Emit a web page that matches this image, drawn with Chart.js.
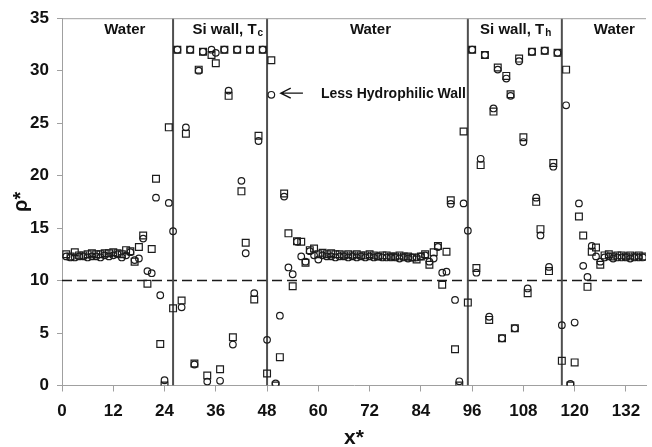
<!DOCTYPE html>
<html>
<head>
<meta charset="utf-8">
<script src="https://cdn.jsdelivr.net/npm/chart.js@4.4.1/dist/chart.umd.min.js"></script>
<style>
  html, body { margin: 0; padding: 0; background: #fff; }
  #wrap { width: 652px; height: 447px; position: relative; }
</style>
</head>
<body>
<div id="wrap"><canvas id="c" width="652" height="447"></canvas></div>
<script>
// x* positions (one sample per unit)
const xStar = [1,2,3,4,5,6,7,8,9,10,11,12,13,14,15,16,17,18,19,20,
  21,22,23,24,25,26,27,28,29,30,31,32,33,34,35,36,37,38,39,40,
  41,42,43,44,45,46,47,48,49,50,51,52,53,54,55,56,57,58,59,60,
  61,62,63,64,65,66,67,68,69,70,71,72,73,74,75,76,77,78,79,80,
  81,82,83,84,85,86,87,88,89,90,91,92,93,94,95,96,97,98,99,100,
  101,102,103,104,105,106,107,108,109,110,111,112,113,114,115,116,117,118,119,120,
  121,122,123,124,125,126,127,128,129,130,131,132,133,134,135,136];

// rho* — square markers
const rhoSquares = [12.5,12.3,12.7,12.4,12.4,12.5,12.6,12.5,12.5,12.6,
  12.6,12.7,12.6,12.5,12.9,12.8,11.8,13.2,14.3,9.7,
  13.0,19.7,3.95,0.0,24.6,7.35,32.0,8.1,24.0,32.0,
  2.1,30.1,31.8,0.95,31.5,30.7,1.55,32.0,27.6,4.6,
  32.0,18.5,13.6,32.0,8.2,23.8,32.0,1.15,31.0,0.0,
  2.7,18.3,14.5,9.45,13.75,13.7,11.7,12.9,13.05,12.5,
  12.65,12.5,12.6,12.5,12.5,12.4,12.5,12.4,12.5,12.4,
  12.4,12.5,12.4,12.3,12.4,12.4,12.3,12.3,12.4,12.3,
  12.3,12.2,12.0,12.3,12.5,11.5,12.7,13.3,9.6,12.75,
  17.65,3.45,0.0,24.2,7.9,32.0,11.2,21.0,31.5,6.25,
  26.1,30.3,4.5,29.5,27.75,5.45,31.15,23.65,8.8,31.8,
  17.5,14.9,31.9,10.9,21.2,31.7,2.35,30.1,0.0,2.2,
  16.1,14.3,9.4,12.75,13.15,11.5,12.4,12.5,12.3,12.4,
  12.4,12.3,12.4,12.3,12.4,12.3];

// rho* — circle markers
const rhoCircles = [12.3,12.2,12.2,12.3,12.3,12.2,12.3,12.3,12.2,12.4,
  12.3,12.4,12.5,12.2,12.4,12.7,11.95,12.1,14.0,10.9,
  10.7,17.9,8.6,0.5,17.4,14.7,32.0,7.45,24.6,32.0,
  2.0,30.0,31.8,0.37,32.0,31.7,0.45,32.0,28.1,3.9,
  32.0,19.5,12.6,32.0,8.8,23.3,32.0,4.35,27.7,0.2,
  6.65,18.0,11.25,10.6,13.7,12.3,11.8,12.8,12.4,12.0,
  12.4,12.3,12.3,12.2,12.3,12.3,12.2,12.3,12.2,12.3,
  12.2,12.3,12.2,12.3,12.2,12.2,12.2,12.2,12.1,12.2,
  12.1,12.2,12.2,12.3,12.4,11.8,12.1,13.2,10.75,10.85,
  17.3,8.15,0.4,17.35,14.75,32.0,10.75,21.6,31.5,6.55,
  26.4,30.1,4.5,29.25,27.6,5.45,30.9,23.2,9.25,31.8,
  17.9,14.3,31.9,11.3,20.85,31.7,5.75,26.7,0.15,6.0,
  17.35,11.4,10.35,13.3,12.3,11.8,12.2,12.3,12.1,12.2,
  12.2,12.2,12.1,12.2,12.2,12.2];

// x* positions of the material boundaries
const boundaries = [26, 48, 95, 117];
// reference level
const refLevel = [10];
// axis ticks
const xTicks = [0, 12, 24, 36, 48, 60, 72, 84, 96, 108, 120, 132];
const yTicks = [0, 5, 10, 15, 20, 25, 30, 35];

// region labels
const regionLabels = [
  { text: 'Water', sub: '', x: 14.7 },
  { text: 'Si wall, T', sub: 'c', x: 38.8 },
  { text: 'Water', sub: '', x: 72.2 },
  { text: 'Si wall, T', sub: 'h', x: 106.2 },
  { text: 'Water', sub: '', x: 129.3 }
];

const FONT = "'Liberation Sans', Arial, sans-serif";

const squarePts = xStar.map((x, i) => ({ x: x, y: rhoSquares[i] }));
const circlePts = xStar.map((x, i) => ({ x: x, y: rhoCircles[i] }));

const boundaryDatasets = boundaries.map(b => ({
  type: 'line',
  data: [{ x: b, y: 0 }, { x: b, y: 35 }],
  borderColor: 'rgba(70,70,70,0.95)',
  borderWidth: 2,
  pointRadius: 0,
  showLine: true,
  fill: false,
  order: 5
}));

const refDataset = {
  type: 'line',
  data: [{ x: 0, y: refLevel[0] }, { x: 136.7, y: refLevel[0] }],
  borderColor: '#1a1a1a',
  borderWidth: 1.4,
  borderDash: [10, 5],
  pointRadius: 0,
  showLine: true,
  fill: false,
  order: 6
};

const annotPlugin = {
  id: 'annot',
  afterDatasetsDraw(chart) {
    const { ctx, chartArea, scales } = chart;
    const xs = scales.x, ys = scales.y;
    ctx.save();
    // top frame line
    ctx.strokeStyle = '#a0a0a0';
    ctx.lineWidth = 1;
    ctx.beginPath();
    ctx.moveTo(chartArea.left, chartArea.top + 0.5);
    ctx.lineTo(chartArea.right, chartArea.top + 0.5);
    ctx.stroke();

    // region labels
    ctx.fillStyle = '#111';
    ctx.textBaseline = 'alphabetic';
    const baseY = ys.getPixelForValue(33.5);
    regionLabels.forEach(l => {
      ctx.font = 'bold 15px ' + FONT;
      const w1 = ctx.measureText(l.text).width;
      ctx.font = 'bold 10px ' + FONT;
      const w2 = l.sub ? ctx.measureText(l.sub).width + 1 : 0;
      const cx = xs.getPixelForValue(l.x);
      const left = cx - (w1 + w2) / 2;
      ctx.font = 'bold 15px ' + FONT;
      ctx.textAlign = 'left';
      ctx.fillText(l.text, left, baseY);
      if (l.sub) {
        ctx.font = 'bold 10px ' + FONT;
        ctx.fillText(l.sub, left + w1 + 1, baseY + 2);
      }
    });

    // "Less Hydrophilic Wall" with arrow
    ctx.font = 'bold 14px ' + FONT;
    ctx.textAlign = 'left';
    ctx.fillText('Less Hydrophilic Wall', xs.getPixelForValue(60.6), ys.getPixelForValue(27.4));
    const ay = ys.getPixelForValue(27.86);
    const ax0 = xs.getPixelForValue(51.2), ax1 = xs.getPixelForValue(56.4);
    ctx.strokeStyle = '#111';
    ctx.lineWidth = 1.3;
    ctx.beginPath();
    ctx.moveTo(ax1, ay);
    ctx.lineTo(ax0, ay);
    ctx.moveTo(ax0 + 10, ay - 5);
    ctx.lineTo(ax0, ay);
    ctx.lineTo(ax0 + 10, ay + 5);
    ctx.stroke();
    ctx.restore();
  }
};

new Chart(document.getElementById('c'), {
  type: 'scatter',
  data: {
    datasets: [
      {
        label: 'squares',
        data: squarePts,
        pointStyle: 'rect',
        pointRadius: 4.8,
        borderColor: '#1c1c1c',
        backgroundColor: 'rgba(0,0,0,0)',
        borderWidth: 1.2,
        order: 2
      },
      {
        label: 'circles',
        data: circlePts,
        pointStyle: 'circle',
        pointRadius: 3.3,
        borderColor: '#1c1c1c',
        backgroundColor: 'rgba(0,0,0,0)',
        borderWidth: 1.2,
        order: 1
      },
      ...boundaryDatasets,
      refDataset
    ]
  },
  options: {
    responsive: false,
    animation: false,
    devicePixelRatio: 1,
    layout: { padding: { top: 17, right: 0, left: 0, bottom: 0 } },
    plugins: { legend: { display: false }, tooltip: { enabled: false } },
    scales: {
      x: {
        type: 'linear',
        min: 0,
        max: 136.7,
        afterBuildTicks: s => { s.ticks = xTicks.map(v => ({ value: v })); },
        afterFit: s => { s.height = 61.5; },
        ticks: { font: { family: FONT, size: 17, weight: 'bold' }, color: '#111', padding: 10, maxRotation: 0, autoSkip: false },
        grid: { display: true, drawOnChartArea: false, drawTicks: true, tickLength: 6, color: '#a0a0a0' },
        border: { display: true, color: '#a0a0a0', width: 1 },
        title: { display: true, text: 'x*', font: { family: FONT, size: 21, weight: 'bold' }, color: '#111', padding: { top: 0, bottom: -4 } }
      },
      y: {
        type: 'linear',
        min: 0,
        max: 35,
        afterBuildTicks: s => { s.ticks = yTicks.map(v => ({ value: v })); },
        afterFit: s => { s.width = 62; },
        ticks: { font: { family: FONT, size: 17, weight: 'bold' }, color: '#111', padding: 8 },
        grid: { display: true, drawOnChartArea: false, drawTicks: true, tickLength: 5, color: '#a0a0a0' },
        border: { display: true, color: '#a0a0a0', width: 1 },
        title: { display: true, text: 'ρ*', font: { family: FONT, size: 20, weight: 'bold' }, color: '#111', padding: { top: 9, bottom: 0 } }
      }
    }
  },
  plugins: [annotPlugin]
});
</script>
</body>
</html>
